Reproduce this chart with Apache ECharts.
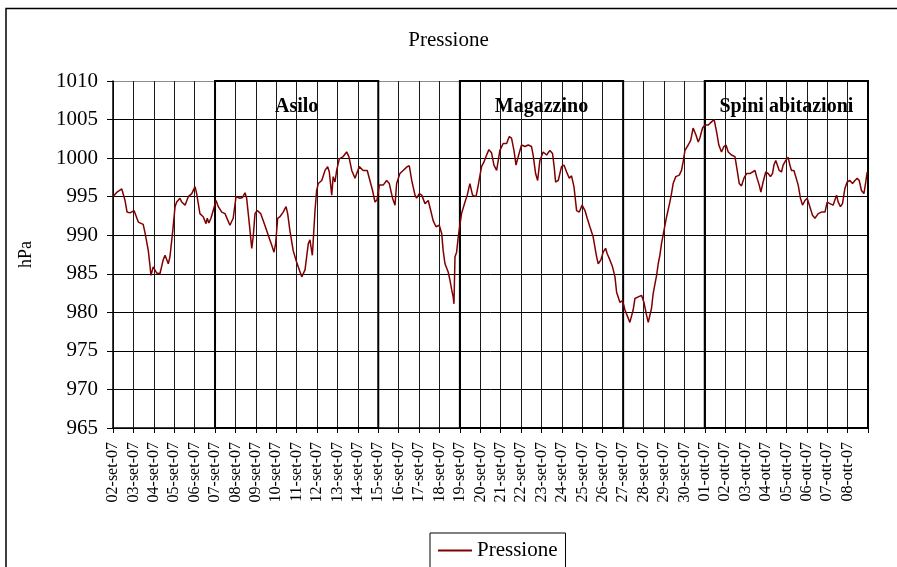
<!DOCTYPE html>
<html>
<head>
<meta charset="utf-8">
<script src="https://cdn.jsdelivr.net/npm/echarts@6/dist/echarts.min.js"></script>
<style>
html,body{margin:0;padding:0;background:#fff;}
#chart{width:897px;height:567px;}
</style>
</head>
<body>
<div id="chart"></div>
<script>
// Day labels (tick every day from 02-set-07)
const dayLabels = ['02-set-07','03-set-07','04-set-07','05-set-07','06-set-07','07-set-07','08-set-07','09-set-07','10-set-07','11-set-07','12-set-07','13-set-07','14-set-07','15-set-07','16-set-07','17-set-07','18-set-07','19-set-07','20-set-07','21-set-07','22-set-07','23-set-07','24-set-07','25-set-07','26-set-07','27-set-07','28-set-07','29-set-07','30-set-07','01-ott-07','02-ott-07','03-ott-07','04-ott-07','05-ott-07','06-ott-07','07-ott-07','08-ott-07'];

// Time of each reading, in days since 02-set-07 00:00
const days = [0,0.20,0.43,0.59,0.69,0.83,1.03,1.24,1.48,1.57,1.73,1.81,1.86,1.97,2.14,2.30,2.39,2.46,2.55,2.71,2.79,2.93,3.04,3.12,3.28,3.37,3.53,3.69,3.86,4.02,4.10,4.26,4.42,4.56,4.62,4.70,4.80,4.91,5.05,5.16,5.33,5.49,5.73,5.89,6.03,6.22,6.35,6.47,6.55,6.68,6.80,6.87,6.96,7.07,7.24,7.36,7.53,7.66,7.78,7.89,7.97,8.07,8.18,8.34,8.48,8.56,8.67,8.83,9.00,9.25,9.41,9.49,9.57,9.65,9.77,9.90,9.98,10.06,10.23,10.39,10.52,10.60,10.72,10.79,10.88,10.96,11.09,11.28,11.45,11.56,11.70,11.86,12.07,12.26,12.46,12.59,12.72,12.84,12.94,13.05,13.24,13.41,13.54,13.70,13.82,13.90,14.06,14.22,14.42,14.52,14.64,14.80,14.88,15.01,15.13,15.29,15.45,15.57,15.69,15.83,15.99,16.11,16.18,16.27,16.43,16.51,16.60,16.67,16.71,16.76,16.84,16.92,17.08,17.25,17.36,17.49,17.62,17.79,17.90,18.06,18.18,18.31,18.42,18.55,18.67,18.80,18.96,19.12,19.29,19.42,19.53,19.65,19.75,19.86,20.02,20.19,20.35,20.51,20.59,20.71,20.81,20.92,21.08,21.25,21.41,21.54,21.62,21.69,21.82,21.98,22.10,22.23,22.36,22.47,22.59,22.72,22.85,22.99,23.13,23.24,23.37,23.53,23.70,23.78,23.91,24.02,24.14,24.22,24.35,24.48,24.60,24.68,24.84,24.97,25.09,25.33,25.49,25.58,25.74,25.90,26.02,26.15,26.23,26.39,26.47,26.56,26.64,26.72,26.80,26.88,27.00,27.13,27.29,27.37,27.45,27.58,27.75,27.86,27.94,28.03,28.19,28.31,28.43,28.57,28.68,28.76,28.89,29.01,29.17,29.33,29.46,29.58,29.69,29.82,29.94,30.04,30.15,30.31,30.48,30.59,30.69,30.80,30.92,31.05,31.21,31.34,31.46,31.54,31.67,31.75,31.86,31.99,32.11,32.22,32.32,32.39,32.48,32.55,32.65,32.76,32.84,32.97,33.09,33.17,33.25,33.37,33.46,33.58,33.69,33.79,33.91,34.02,34.15,34.28,34.40,34.56,34.72,34.89,35.00,35.13,35.29,35.46,35.54,35.65,35.75,35.87,35.98,36.11,36.24,36.36,36.47,36.57,36.68,36.80,36.89,36.96];

// Pressure readings (hPa)
const pressure = [995.0,995.6,996.0,994.5,993.0,992.9,993.2,991.7,991.4,990.3,988.0,986.1,984.8,985.9,985.1,985.0,984.8,986.8,987.4,986.3,987.2,990.6,993.7,994.3,994.8,994.3,993.9,995.0,995.4,996.3,995.4,992.8,992.4,991.5,992.2,991.6,992.2,993.2,994.5,993.7,993.0,992.8,991.3,992.2,995.0,994.8,994.9,995.5,994.8,991.5,988.3,989.8,992.8,993.2,992.8,991.9,990.6,989.6,988.7,987.8,988.9,992.2,992.4,993.0,993.7,992.8,990.6,988.0,986.5,984.6,985.5,987.2,988.9,989.4,987.4,993.2,995.8,996.7,997.1,998.4,998.9,998.2,995.2,997.6,996.9,998.4,999.9,1000.2,1000.8,1000.2,998.4,997.4,998.9,998.4,998.4,997.1,995.8,994.3,994.6,996.5,996.5,997.1,996.7,994.8,993.9,996.7,998.0,998.4,998.9,999.0,997.1,995.2,994.8,995.4,995.2,994.1,994.5,993.2,991.9,991.1,991.3,990.2,988.0,986.3,985.2,984.2,982.9,982.0,981.1,987.2,987.8,989.8,992.8,994.3,995.2,996.7,995.2,995.0,996.5,998.9,999.5,1000.4,1001.1,1000.7,999.1,998.4,1001.0,1001.9,1001.9,1002.8,1002.6,1001.0,999.1,1000.2,1001.7,1001.5,1001.7,1001.5,1000.4,998.0,997.1,999.7,1000.8,1000.4,1001.0,1000.6,998.9,996.9,997.1,998.9,999.1,998.2,997.4,997.7,996.3,993.2,993.0,993.9,993.2,992.2,991.1,989.8,987.2,986.3,986.8,987.8,988.3,987.6,986.8,985.9,984.6,982.6,981.3,981.5,980.3,978.7,980.3,981.8,982.0,982.2,981.3,979.6,978.7,980.5,982.4,983.7,984.8,986.3,987.4,988.9,990.6,992.4,994.3,995.4,996.7,997.6,997.8,998.4,999.5,1001.0,1001.7,1002.3,1003.9,1003.0,1002.1,1002.6,1003.9,1004.3,1004.3,1004.7,1005.0,1003.4,1001.7,1000.8,1001.5,1001.7,1000.8,1000.4,1000.2,998.4,996.7,996.4,997.4,998.0,998.0,998.2,998.4,997.6,996.5,995.6,996.9,998.2,998.0,997.6,998.0,999.1,999.7,999.9,998.4,998.2,999.1,999.7,1000.1,999.1,998.4,998.4,998.2,996.5,994.8,993.9,994.5,994.8,993.7,992.6,992.2,992.8,993.0,993.0,994.3,994.1,993.9,995.2,994.3,993.7,994.1,996.1,996.9,997.1,996.7,997.1,997.4,997.1,995.8,995.4,996.9,998.2];

// Highlighted periods: [label, start day, end day]
const zoneNames = ['Asilo','Magazzino','Spini abitazioni'];
const zoneStart = [5, 17, 29];
const zoneEnd = [13, 25, 37];

const yMin = 965, yMax = 1010, yStep = 5;
const xMax = 37;

const FONT = 'Liberation Serif, Times New Roman, serif';

const chart = echarts.init(document.getElementById('chart'), null, {renderer: 'canvas'});

const seriesData = days.map((d, i) => [d, pressure[i]]);

const nY = (yMax - yMin) / yStep + 1;
const yGridColors = [];
for (let i = 0; i < nY; i++) yGridColors.push(i === nY - 1 ? '#8c8c8c' : '#000');
const xGridColors = [];
for (let i = 0; i <= xMax; i++) xGridColors.push(i === xMax ? '#8c8c8c' : '#1a1a1a');

const areas = zoneNames.map((n, i) => [
  {name: n, xAxis: zoneStart[i], yAxis: yMin},
  {xAxis: zoneEnd[i], yAxis: yMax}
]);

chart.setOption({
  animation: false,
  backgroundColor: '#fff',
  title: {
    text: 'Pressione',
    left: 'center',
    top: 30,
    padding: 0,
    textStyle: {fontFamily: FONT, fontSize: 21, fontWeight: 'normal', color: '#000'}
  },
  legend: {
    data: ['Pressione'],
    left: 430,
    top: 533,
    orient: 'horizontal',
    padding: [7, 8, 20, 8],
    borderColor: '#000',
    borderWidth: 1,
    itemWidth: 34,
    itemHeight: 2,
    itemGap: 5,
    icon: 'rect',
    textStyle: {fontFamily: FONT, fontSize: 21, color: '#000', padding: [0, 0, 0, 0]}
  },
  grid: {left: 113, right: 29, top: 81, bottom: 139, containLabel: false},
  xAxis: {
    type: 'value',
    min: 0,
    max: xMax,
    interval: 1,
    axisLine: {show: true, lineStyle: {color: '#000', width: 1.5}},
    axisTick: {show: true, inside: false, length: 5, lineStyle: {color: '#000'}},
    splitLine: {show: true, lineStyle: {color: xGridColors, width: 1}},
    axisLabel: {
      rotate: 90,
      margin: 14,
      showMaxLabel: true,
      fontFamily: FONT,
      fontSize: 16,
      color: '#000',
      formatter: v => (dayLabels[Math.round(v)] || '')
    }
  },
  yAxis: {
    type: 'value',
    min: yMin,
    max: yMax,
    interval: yStep,
    name: 'hPa',
    nameLocation: 'middle',
    nameGap: 78,
    nameRotate: 90,
    nameTextStyle: {fontFamily: FONT, fontSize: 18, color: '#000'},
    axisLine: {show: true, lineStyle: {color: '#000', width: 1.5}},
    axisTick: {show: true, inside: false, length: 6, lineStyle: {color: '#000'}},
    splitLine: {show: true, lineStyle: {color: yGridColors, width: 1}},
    axisLabel: {fontFamily: FONT, fontSize: 21, color: '#000', margin: 15, formatter: v => String(v)}
  },
  graphic: [{
    type: 'rect',
    shape: {x: 6, y: 8.5, width: 1200, height: 1000},
    style: {fill: 'none', stroke: '#000', lineWidth: 1.5},
    silent: true,
    z: -1
  }],
  series: [{
    name: 'Pressione',
    type: 'line',
    data: seriesData,
    showSymbol: false,
    symbol: 'none',
    clip: false,
    lineStyle: {color: '#800000', width: 1.5},
    itemStyle: {color: '#800000'},
    z: 3,
    markArea: {
      silent: true,
      itemStyle: {color: 'rgba(0,0,0,0)', borderColor: '#000', borderWidth: 2},
      label: {
        show: true,
        position: 'insideTop',
        distance: 17,
        fontFamily: FONT,
        fontSize: 20,
        fontWeight: 'bold',
        color: '#000'
      },
      data: areas
    }
  }]
});
</script>
</body>
</html>
